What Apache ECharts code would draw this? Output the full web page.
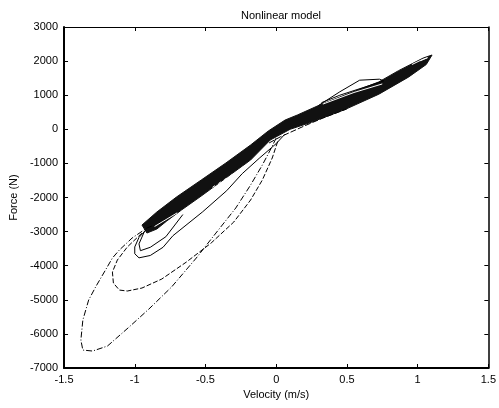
<!DOCTYPE html>
<html>
<head>
<meta charset="utf-8">
<script src="https://cdn.jsdelivr.net/npm/echarts@6/dist/echarts.min.js"></script>
<style>
html,body{margin:0;padding:0;background:#fff;}
#chart{width:499px;height:408px;}
</style>
</head>
<body>
<div id="chart"></div>
<script>
// ---- data (velocity m/s, force N) ----
const chartTitle = 'Nonlinear model';
const xName = 'Velocity (m/s)';
const yName = 'Force (N)';

// dense black band: upper edge (left -> right)
const bandTop = [[-0.949,-2807],[-0.844,-2426],[-0.705,-1986],[-0.530,-1487],[-0.356,-989],[-0.181,-461],[-0.056,-50],[0.063,272],[0.150,420],[0.307,712],[0.500,1030],[0.726,1390],[0.865,1720],[1.040,2091],[1.102,2179]];
// dense black band: lower edge (right -> left)
const bandBottom = [[1.061,1900],[0.935,1530],[0.726,1030],[0.481,570],[0.237,190],[0.098,0],[-0.042,-314],[-0.181,-901],[-0.356,-1429],[-0.530,-1957],[-0.670,-2368],[-0.774,-2690],[-0.844,-2925],[-0.914,-3042]];

// largest excursion (dash-dot)
const outerLoop = [[-0.879,-2837],[-0.914,-2895],[-1.019,-3189],[-1.109,-3541],[-1.158,-3775],[-1.207,-4127],[-1.277,-4626],[-1.326,-5007],[-1.367,-5594],[-1.381,-6180],[-1.367,-6474],[-1.298,-6503],[-1.193,-6356],[-1.040,-5799],[-0.900,-5271],[-0.740,-4626],[-0.565,-3775],[-0.426,-3042],[-0.286,-2309],[-0.181,-1634],[-0.098,-1048],[-0.042,-608],[0.0,-256]];
// second excursion (dashed)
const secondLoop = [[-0.949,-3042],[-1.053,-3453],[-1.123,-3834],[-1.158,-4186],[-1.151,-4509],[-1.109,-4714],[-1.053,-4743],[-0.949,-4655],[-0.809,-4391],[-0.635,-3893],[-0.460,-3335],[-0.300,-2720],[-0.181,-2074],[-0.098,-1487],[-0.028,-842],[0.014,-314]];
// third excursion (solid): small loop at the band end, returning under the band
const innerLoopA = [[-0.92,-2950],[-0.97,-3170],[-1.00,-3450],[-1.00,-3650],[-0.97,-3770],[-0.89,-3700],[-0.80,-3460],[-0.73,-3120],[-0.52,-2420],[-0.35,-1800],[-0.24,-1300],[-0.12,-850],[0.0,-420],[0.06,-150]];
// smaller loop at the band end
const innerLoopB = [[-0.93,-2980],[-0.97,-3360],[-0.96,-3560],[-0.89,-3460],[-0.78,-3150],[-0.66,-2500]];
// loop above the band (upper right)
const hatLoop = [[0.30,700],[0.45,1100],[0.59,1440],[0.73,1470],[0.76,1420],[0.62,1230],[0.45,1000],[0.32,780]];
// thin line just under the band near the origin
const underLine = [[-0.05,-400],[0.03,-220],[0.20,100],[0.33,330],[0.50,600]];
// light gaps visible inside the band
const gapUpper = [[0.33,740],[0.55,1080],[0.75,1330]];
const gapTip = [[0.96,1900],[1.04,2060],[1.07,2100],[1.02,2010]];
const gapLeft = [[-0.86,-2850],[-0.80,-2700],[-0.70,-2450]];
const gapMid = [[-0.45,-1700],[-0.30,-1300],[-0.15,-850]];

const chart = echarts.init(document.getElementById('chart'), null, {renderer:'canvas'});
const font = 'Liberation Sans, Arial, sans-serif';

function lineSeries(data, type, width, color){
  return {type:'line', data:data, showSymbol:false, symbol:'none', silent:true,
    xAxisIndex:0, yAxisIndex:0, animation:false,
    lineStyle:{color:color||'#000', width:width||1, type:type||'solid'}};
}

const option = {
  animation:false,
  backgroundColor:'#fff',
  title:{text:chartTitle, left:276, top:5, textAlign:'center',
    textStyle:{fontFamily:font, fontSize:11, fontWeight:'normal', color:'#000'}},
  grid:{left:61, right:8, top:27, bottom:40, containLabel:false},
  xAxis:[
    {type:'value', min:-1.5, max:1.5, interval:0.5, position:'bottom',
     name:xName, nameLocation:'middle', nameGap:19,
     nameTextStyle:{fontFamily:font, fontSize:11, color:'#000'},
     axisLine:{show:true, onZero:false, lineStyle:{color:'#000', width:2}},
     axisTick:{show:true, inside:true, length:4, lineStyle:{color:'#000'}},
     axisLabel:{fontFamily:font, fontSize:11, color:'#000', margin:6, formatter:v=>String(v)},
     splitLine:{show:false}},
    {type:'value', min:-1.5, max:1.5, interval:0.5, position:'top',
     axisLine:{show:true, onZero:false, lineStyle:{color:'#000', width:1}},
     axisTick:{show:true, inside:true, length:4, lineStyle:{color:'#000'}},
     axisLabel:{show:false}, splitLine:{show:false}}
  ],
  yAxis:[
    {type:'value', min:-7000, max:3000, interval:1000, position:'left',
     name:yName, nameLocation:'middle', nameGap:43,
     nameTextStyle:{fontFamily:font, fontSize:11, color:'#000'},
     axisLine:{show:true, onZero:false, lineStyle:{color:'#000', width:2}},
     axisTick:{show:true, inside:true, length:4, lineStyle:{color:'#000'}},
     axisLabel:{fontFamily:font, fontSize:11, color:'#000', margin:6, formatter:v=>String(v)},
     splitLine:{show:false}},
    {type:'value', min:-7000, max:3000, interval:1000, position:'right',
     axisLine:{show:true, onZero:false, lineStyle:{color:'#000', width:1.5}},
     axisTick:{show:true, inside:true, length:4, lineStyle:{color:'#000'}},
     axisLabel:{show:false}, splitLine:{show:false}}
  ],
  series:[
    {type:'custom', xAxisIndex:0, yAxisIndex:0, silent:true, data:[[0,0]],
     renderItem:function(params, api){
       const pts = bandTop.concat(bandBottom).map(p => api.coord(p));
       return {type:'polygon', shape:{points:pts}, style:{fill:'#111', stroke:'#111', lineWidth:1}};
     }},
    lineSeries(outerLoop, [6,2,1,2], 1),
    lineSeries(secondLoop, [5,2], 1),
    lineSeries(innerLoopA, 'solid', 1),
    lineSeries(innerLoopB, 'solid', 1),
    lineSeries(hatLoop, 'solid', 1),
    lineSeries(underLine, [6,2], 1),
    lineSeries(gapUpper, 'solid', 1, '#fff'),
    lineSeries(gapTip, 'solid', 1, '#fff'),
    lineSeries(gapLeft, 'solid', 1, '#fff'),
    lineSeries(gapMid, [3,4], 1, '#fff')
  ]
};
chart.setOption(option);
</script>
</body>
</html>
